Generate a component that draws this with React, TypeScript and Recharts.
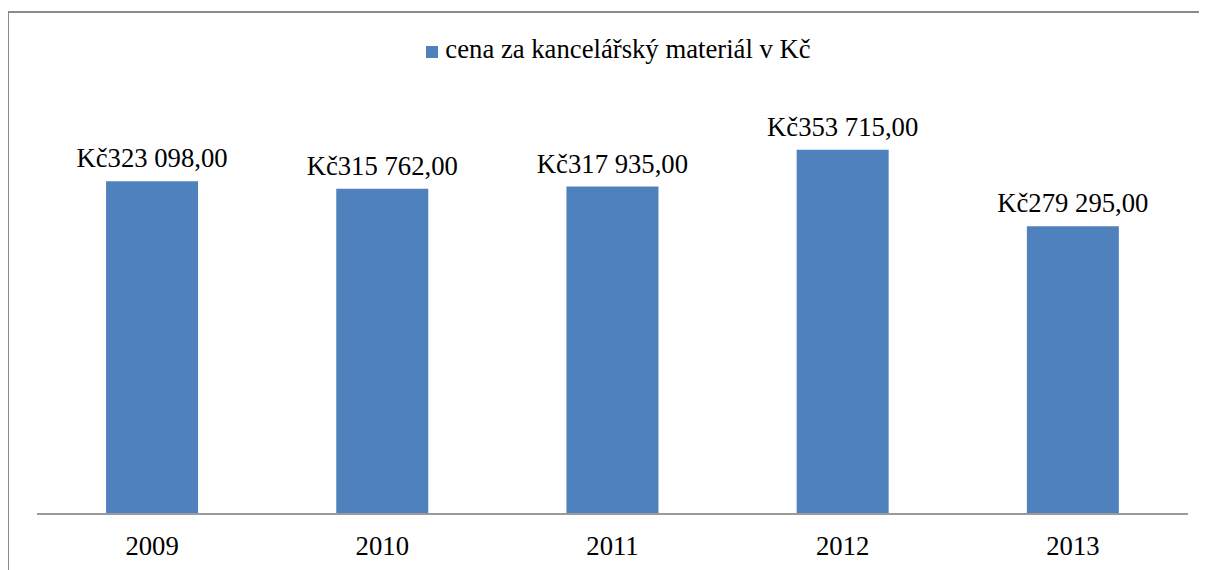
import React from 'react';
import { BarChart, Bar, XAxis, YAxis, Legend, LabelList } from 'recharts';

const years = ['2009', '2010', '2011', '2012', '2013'];
const prices = [323098, 315762, 317935, 353715, 279295];
const seriesName = 'cena za kancelářský materiál v Kč';

const data = years.map((y, i) => ({ year: y, value: prices[i] }));

const fmt = (v: number) => {
  const s = Math.round(v).toString().replace(/\B(?=(\d{3})+(?!\d))/g, ' ');
  return 'Kč' + s + ',00';
};

const FONT = '"Liberation Serif", "Times New Roman", serif';
const FS = 26.7;

export default function App() {
  return (
    <div style={{ position: 'relative', width: 1199, height: 562, overflow: 'hidden', fontFamily: FONT }}>
      <div
        style={{
          position: 'absolute',
          left: -1,
          top: 3,
          width: 1220,
          height: 700,
          border: '2px solid #8a8a8a',
          boxSizing: 'border-box',
          pointerEvents: 'none',
        }}
      />
      <BarChart
        width={1199}
        height={562}
        data={data}
        margin={{ top: 64, right: 19, bottom: 0, left: 29 }}
        barCategoryGap="30%"
      >
        <XAxis
          dataKey="year"
          height={56}
          tickLine={false}
          axisLine={{ stroke: '#9a9a9a', strokeWidth: 2 }}
          tick={{ fill: '#000', fontSize: FS, fontFamily: FONT }}
          tickMargin={16}
        />
        <YAxis hide domain={[0, 400000]} />
        <Legend
          verticalAlign="top"
          align="center"
          iconType="square"
          iconSize={12}
          wrapperStyle={{ top: 26, left: 40, fontFamily: FONT, fontSize: FS, lineHeight: '30px' }}
          formatter={(v: string) => <span style={{ color: '#000', paddingLeft: 3 }}>{v}</span>}
        />
        <Bar dataKey="value" name={seriesName} fill="#4F81BD" isAnimationActive={false}>
          <LabelList
            dataKey="value"
            position="top"
            offset={14}
            formatter={(v: number) => fmt(v)}
            style={{ fill: '#000', fontSize: FS, fontFamily: FONT }}
          />
        </Bar>
      </BarChart>
    </div>
  );
}
